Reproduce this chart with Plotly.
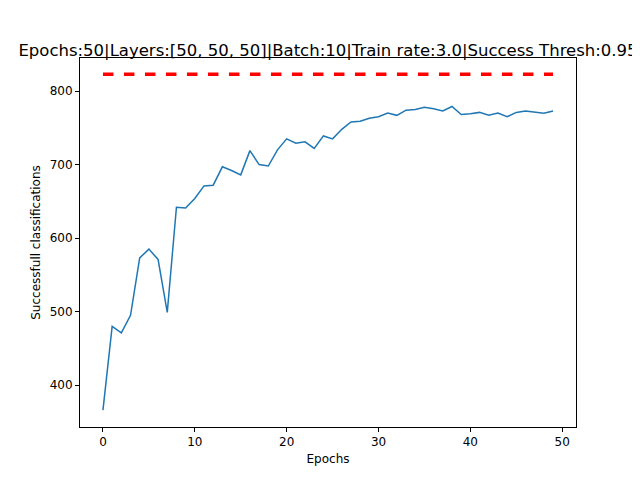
import plotly.graph_objects as go

epochs = list(range(50))
successes = [366, 480, 471, 495, 573, 585, 571, 499, 642, 641,
             654, 671, 672, 697, 692, 686, 719, 700, 698, 720,
             735, 729, 731, 722, 739, 735, 748, 758, 759, 763,
             765, 770, 767, 774, 775, 778, 776, 773, 779, 768,
             769, 771, 767, 770, 765, 771, 773, 771, 770, 773]
threshold = 823

fig = go.Figure()
fig.add_trace(go.Scatter(x=epochs, y=successes, mode="lines",
                         line=dict(color="#1f77b4", width=1.5)))
fig.add_trace(go.Scatter(x=epochs, y=[threshold] * len(epochs), mode="lines",
                         line=dict(color="red", width=3.5, dash="dash")))

axis = dict(showgrid=False, zeroline=False, showline=True, mirror=True,
            linecolor="black", linewidth=1, ticks="outside", ticklen=4,
            tickcolor="black", tickfont=dict(size=12, color="black"),
            automargin=False)
fig.update_layout(
    width=640, height=480,
    margin=dict(l=72, r=72, t=50, b=61),
    paper_bgcolor="white", plot_bgcolor="white",
    showlegend=False,
    font=dict(family="DejaVu Sans", color="black"),
    title=dict(text="Epochs:50|Layers:[50, 50, 50]|Batch:10|Train rate:3.0|Success Thresh:0.95",
               x=0.5, xanchor="center", y=0.925, font=dict(size=16.5)),
    xaxis=dict(axis, range=[-2.5, 51.5], tickvals=[0, 10, 20, 30, 40, 50],
               title=dict(text="Epochs", font=dict(size=12), standoff=6)),
    yaxis=dict(axis, range=[343, 845], tickvals=[400, 500, 600, 700, 800],
               title=dict(text="Successfull classifications", font=dict(size=12), standoff=6)),
)
fig.write_html("out.html")
